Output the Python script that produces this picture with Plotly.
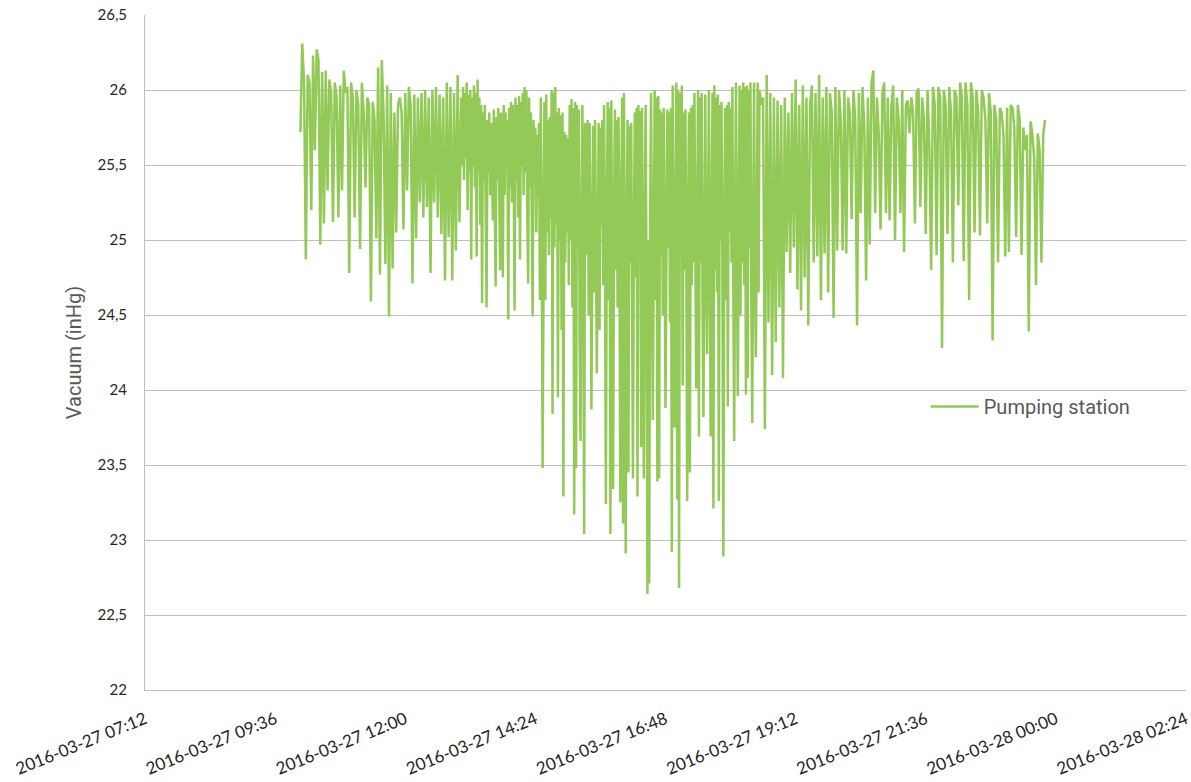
import pandas as pd
import plotly.graph_objects as go

######### DATA #########
# vacuum readings (inHg)
# morning: every 2 min from 10:04
vac_morning = [25.72, 26.31, 26.05, 24.87, 26.10, 26.05, 25.20, 26.23, 25.60, 26.27,
               26.20, 24.97, 26.12, 25.11, 26.13, 25.33, 26.07, 25.98, 25.12, 26.05,
               25.95, 25.15, 26.03, 25.33, 26.13, 25.98, 26.02, 24.78, 26.05, 25.95,
               25.15, 26.00, 25.90, 24.94, 26.05, 25.85, 25.35, 25.95, 25.90, 24.59,
               25.92, 25.80, 25.01, 26.15, 24.77, 26.20, 25.85, 24.84, 26.03, 24.49,
               25.98, 24.81, 25.85, 25.05, 25.90, 25.95, 25.85, 25.07, 25.98, 25.33,
               26.02, 25.90, 24.71, 25.97, 25.01, 25.95, 25.25, 25.98, 25.15, 26.00,
               25.22, 25.95, 24.78, 26.00, 25.25, 26.02, 25.15, 25.97, 25.04, 25.95,
               24.73, 26.05, 25.02, 26.02, 24.73, 25.98, 24.93, 26.10, 25.12]
# midday: every minute from 13:02
vac_midday = [25.95, 25.50, 26.02, 25.40, 25.98, 25.55, 26.05, 25.20, 25.97, 25.45,
              26.00, 24.87, 25.95, 25.50, 26.03, 25.35, 25.98, 24.89, 26.07, 25.45,
              25.95, 25.10, 25.90, 24.58, 25.85, 25.40, 25.90, 25.25, 24.55, 25.80,
              25.45, 25.85, 25.30, 25.78, 25.50, 25.13, 25.87, 25.35, 24.69, 25.82,
              25.40, 25.88, 25.20, 24.80, 25.85, 25.45, 24.75, 25.90, 25.30, 25.85,
              25.50, 25.80, 24.47, 25.88, 25.35, 25.92, 25.25, 25.90, 25.45, 24.53,
              25.95, 25.40, 25.90, 25.15, 25.96, 24.87, 25.92, 25.50, 25.98, 25.30,
              26.02, 25.45, 26.00, 25.20, 24.71, 25.95, 25.35, 25.85, 25.10, 24.49,
              25.80, 25.40, 25.75, 25.05, 25.70, 25.30, 25.78, 24.60]
# afternoon: every minute from 14:30
vac_afternoon = [25.95, 25.10, 23.48, 25.20, 25.92, 24.60, 25.97, 25.05, 25.80, 24.90,
                 25.82, 25.15, 26.00, 23.84, 25.98, 24.95, 26.02, 25.10, 25.85, 23.95,
                 25.88, 25.00, 25.83, 24.40, 25.85, 23.29, 25.72, 24.85, 25.70, 25.05,
                 25.68, 24.70, 25.90, 25.00, 25.94, 24.55, 25.88, 23.17, 25.92, 23.48,
                 25.90, 24.95, 25.87, 24.30, 23.66, 25.10, 25.90, 24.80, 23.04, 25.78,
                 25.75, 24.90, 25.80, 24.50, 25.78, 25.05, 23.87, 24.85, 25.76, 24.65,
                 25.80, 25.00, 24.11, 24.75, 25.78, 24.40, 25.75, 25.10, 25.80, 24.70,
                 25.90, 24.95, 23.24, 25.05, 25.92, 24.60, 25.88, 23.04, 25.93, 24.90,
                 23.34, 25.00, 25.87, 24.80, 25.80, 24.55, 25.82, 25.00, 23.25, 25.10,
                 25.95, 23.11, 25.98, 24.70, 22.91, 24.95, 25.80, 23.45, 25.76, 24.85,
                 25.78, 24.60, 23.41, 25.00, 25.85, 24.75, 25.88, 23.29, 25.90, 24.90,
                 25.86, 23.62, 25.88, 24.80, 23.41, 25.05, 25.90, 24.70, 22.64, 25.00,
                 22.71, 25.10, 25.98, 24.85, 23.80, 24.95, 26.00, 24.60, 25.95, 23.39,
                 25.96, 23.41, 25.87, 24.90, 25.85, 24.50, 25.88, 25.05, 23.88, 24.80,
                 25.87, 24.95, 25.85, 24.45, 25.88, 22.92, 26.03, 24.85, 23.75, 25.00,
                 26.05, 23.27, 26.00, 22.68, 25.98, 24.90, 26.03, 24.03, 25.85, 24.80,
                 25.87, 24.95, 23.26, 25.05, 25.85, 23.45, 25.88, 24.70, 25.90, 24.85,
                 25.98, 24.95, 24.01, 25.00, 26.00, 23.69, 25.95, 24.85, 25.98, 24.55,
                 23.82, 25.00, 25.97, 24.75, 24.24, 25.05, 26.00, 24.90, 23.69, 24.95,
                 25.98, 23.21, 26.03, 24.80, 25.95, 24.65, 25.97, 23.26, 25.90, 25.00,
                 25.92, 24.70, 22.89, 24.95, 25.88, 24.60, 25.90, 23.89, 25.92, 25.05,
                 25.88, 24.85, 26.02, 24.70, 23.66, 25.00, 26.05, 24.90, 23.96, 24.95,
                 26.03, 24.50, 26.00, 24.85, 26.05, 24.70, 26.02, 23.97, 26.03, 24.08,
                 26.00, 24.95, 26.05, 24.60, 23.78, 25.00, 26.05, 24.75, 24.22, 25.05,
                 26.05, 24.65, 26.00]
# evening: every 2 min from 18:34
vac_evening = [25.90, 25.95, 23.74, 26.10, 24.45, 25.98, 24.10, 25.95, 24.32, 25.93,
               24.55, 25.90, 24.08, 25.95, 24.92, 25.85, 24.78, 25.98, 24.95, 26.07,
               24.67, 25.90, 24.53, 26.03, 24.75, 25.95, 24.43, 25.90, 26.03, 24.85,
               25.98, 24.89, 26.10, 24.60, 25.95, 24.91, 26.02, 24.65, 25.98, 25.85,
               24.48, 26.02, 24.93, 26.00, 25.80, 24.93, 26.00, 24.91, 25.95, 25.85,
               25.14, 26.00, 25.80, 24.43, 25.98, 25.18, 26.02, 25.75, 24.73, 25.95,
               24.97, 26.05, 26.13, 25.18, 25.95, 25.70, 25.07, 25.98, 26.05, 25.18,
               25.95, 25.13, 25.90, 26.03, 25.00, 25.95, 25.80, 25.18, 26.00, 24.92,
               25.90, 25.93, 25.71, 25.95, 25.85, 25.11, 25.98, 26.01, 25.22, 25.95,
               25.80, 25.04, 26.00, 25.62, 24.80, 26.02, 25.90, 24.90, 26.02, 25.95,
               24.28, 26.00, 25.90, 25.04, 26.02, 25.85, 24.85, 26.00, 25.95, 25.23,
               26.05, 25.95, 24.86, 26.05, 25.90, 24.60, 26.05, 25.95, 25.05, 26.00,
               25.85, 25.03, 26.00, 25.95, 25.80, 25.11, 25.98, 25.85, 24.33, 25.90,
               25.80, 24.85, 25.88, 25.85, 25.70, 24.89, 25.88, 24.92, 25.90, 25.88,
               25.75, 25.02, 25.90, 25.80, 24.90, 25.75, 25.60, 25.70, 24.39, 25.79,
               25.70, 25.55, 24.70, 25.71, 25.60, 24.85, 25.70, 25.80]

times = (list(pd.date_range("2016-03-27 10:04", periods=len(vac_morning), freq="2min"))
         + list(pd.date_range("2016-03-27 13:02", periods=len(vac_midday), freq="1min"))
         + list(pd.date_range("2016-03-27 14:30", periods=len(vac_afternoon), freq="1min"))
         + list(pd.date_range("2016-03-27 18:34", periods=len(vac_evening), freq="2min")))
vacuum = vac_morning + vac_midday + vac_afternoon + vac_evening

tick_times = pd.date_range("2016-03-27 07:12", periods=9, freq="144min")
tick_labels = [t.strftime("%Y-%m-%d %H:%M") for t in tick_times]

GREEN = "#92C957"
GRID = "#BFBFBF"

######### FIGURE #########
fig = go.Figure()
fig.add_trace(go.Scatter(
    x=times, y=vacuum, mode="lines", name="Pumping station",
    line=dict(color=GREEN, width=2.5),
))

fig.update_layout(
    width=1191, height=782,
    margin=dict(l=145, r=5, t=15, b=92),
    separators=", ",
    paper_bgcolor="white", plot_bgcolor="white",
    showlegend=True,
    legend=dict(x=0.75, y=0.42, xanchor="left", yanchor="middle",
                bgcolor="rgba(0,0,0,0)", itemwidth=48,
                font=dict(family="Roboto", size=20, color="#595959")),
)
fig.update_xaxes(
    range=[tick_times[0], tick_times[-1]],
    tickvals=tick_times, ticktext=tick_labels, tickangle=-22,
    showgrid=False, showline=True, linecolor=GRID, linewidth=1, ticks="",
    ticklabelstandoff=12, automargin=False,
    tickfont=dict(family="Lato", size=17, color="#262626"),
)
fig.update_yaxes(
    range=[22, 26.5], dtick=0.5,
    showgrid=True, gridcolor=GRID, gridwidth=1,
    showline=True, linecolor=GRID, linewidth=1, zeroline=False, ticks="",
    ticklabelstandoff=14, automargin=False,
    tickfont=dict(family="Lato", size=15, color="#262626"),
    title=dict(text="Vacuum (inHg)", standoff=10,
               font=dict(family="Roboto", size=20, color="#595959")),
)

fig.write_html("out.html", config={"displayModeBar": False},
               post_script="document.body.style.margin='0';")
